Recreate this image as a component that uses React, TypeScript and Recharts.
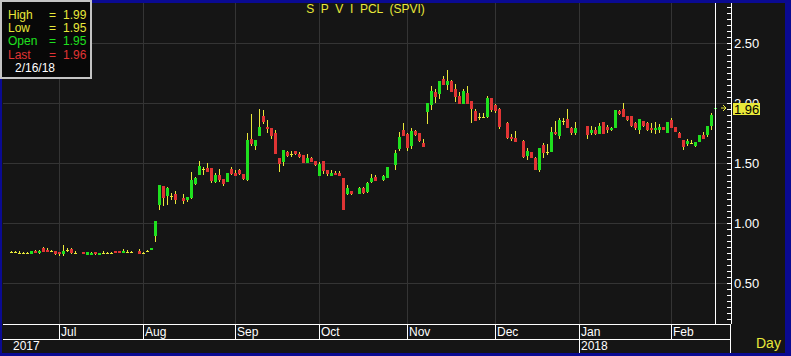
import React from "react"
import { Bar, ComposedChart, ReferenceLine, XAxis, YAxis } from "recharts"

// [day, open, high, low, close]; a lone [day] is a weekday with no trading
type Row = [number, number, number, number, number] | [number]

const jun2017: Row[] = [
  [15, 0.76, 0.77, 0.75, 0.76],
  [16, 0.76, 0.77, 0.75, 0.76],
  [19, 0.75, 0.765, 0.74, 0.75],
  [20, 0.75, 0.76, 0.745, 0.75],
  [21, 0.75, 0.76, 0.745, 0.75],
  [22, 0.745, 0.767, 0.744, 0.765],
  [23, 0.77, 0.78, 0.75, 0.75],
  [26, 0.75, 0.775, 0.745, 0.77],
  [27, 0.79, 0.8, 0.76, 0.76],
  [28, 0.78, 0.79, 0.76, 0.76],
  [29, 0.77, 0.78, 0.76, 0.77],
  [30, 0.77, 0.77, 0.735, 0.745],
]

const jul2017: Row[] = [
  [3, 0.76, 0.76, 0.73, 0.74],
  [4, 0.74, 0.82, 0.73, 0.77],
  [5, 0.78, 0.79, 0.76, 0.78],
  [6, 0.785, 0.79, 0.74, 0.755],
  [7, 0.755, 0.77, 0.75, 0.755],
  [10],
  [11, 0.758, 0.76, 0.74, 0.742],
  [12, 0.737, 0.76, 0.735, 0.758],
  [13, 0.737, 0.757, 0.735, 0.755],
  [14, 0.758, 0.76, 0.733, 0.742],
  [17, 0.737, 0.755, 0.735, 0.753],
  [18, 0.755, 0.765, 0.75, 0.755],
  [19, 0.755, 0.758, 0.752, 0.755],
  [20, 0.755, 0.758, 0.752, 0.755],
  [21, 0.767, 0.77, 0.75, 0.75],
  [24, 0.767, 0.77, 0.75, 0.75],
  [25, 0.75, 0.783, 0.75, 0.77],
  [26, 0.764, 0.775, 0.753, 0.764],
  [27, 0.76, 0.765, 0.755, 0.76],
  [28],
  [31, 0.767, 0.783, 0.745, 0.745],
]

const aug2017: Row[] = [
  [1, 0.753, 0.76, 0.745, 0.753],
  [2, 0.77, 0.775, 0.76, 0.77],
  [3, 0.775, 0.795, 0.775, 0.79],
  [4, 0.89, 1.02, 0.845, 1.02],
  [7, 1.15, 1.32, 1.11, 1.32],
  [8, 1.31, 1.31, 1.14, 1.21],
  [9, 1.225, 1.3, 1.15, 1.29],
  [10, 1.225, 1.25, 1.19, 1.225],
  [11, 1.24, 1.27, 1.16, 1.19],
  [14],
  [15, 1.21, 1.24, 1.16, 1.185],
  [16, 1.19, 1.22, 1.18, 1.22],
  [17, 1.21, 1.43, 1.2, 1.36],
  [18, 1.325, 1.385, 1.32, 1.38],
  [21, 1.4, 1.52, 1.4, 1.48],
  [22, 1.45, 1.47, 1.4, 1.45],
  [23, 1.46, 1.5, 1.425, 1.43],
  [24, 1.46, 1.46, 1.335, 1.35],
  [25, 1.34, 1.42, 1.335, 1.4],
  [28, 1.4, 1.45, 1.34, 1.36],
  [29, 1.37, 1.37, 1.31, 1.33],
  [30, 1.345, 1.42, 1.345, 1.42],
  [31, 1.45, 1.47, 1.405, 1.41],
]

const sep2017: Row[] = [
  [1, 1.42, 1.44, 1.39, 1.395],
  [4, 1.445, 1.455, 1.405, 1.41],
  [5, 1.41, 1.41, 1.36, 1.37],
  [6, 1.36, 1.75, 1.355, 1.69],
  [7, 1.7, 1.91, 1.64, 1.66],
  [8, 1.64, 1.69, 1.61, 1.69],
  [11, 1.73, 1.95, 1.73, 1.8],
  [12, 1.89, 1.94, 1.825, 1.84],
  [13, 1.8, 1.86, 1.75, 1.785],
  [14, 1.79, 1.79, 1.705, 1.73],
  [15, 1.75, 1.78, 1.575, 1.575],
  [18, 1.54, 1.54, 1.43, 1.49],
  [19, 1.51, 1.61, 1.48, 1.61],
  [20, 1.59, 1.6, 1.555, 1.56],
  [21, 1.58, 1.6, 1.555, 1.58],
  [22, 1.6, 1.6, 1.57, 1.575],
  [25, 1.58, 1.59, 1.545, 1.55],
  [26, 1.565, 1.57, 1.5, 1.505],
  [27, 1.505, 1.58, 1.505, 1.54],
  [28, 1.545, 1.55, 1.51, 1.51],
  [29, 1.515, 1.515, 1.48, 1.485],
]

const oct2017: Row[] = [
  [2, 1.39, 1.51, 1.39, 1.49],
  [3, 1.515, 1.515, 1.41, 1.435],
  [4, 1.44, 1.44, 1.39, 1.41],
  [5, 1.39, 1.44, 1.39, 1.415],
  [6, 1.42, 1.435, 1.4, 1.4],
  [9, 1.415, 1.435, 1.39, 1.39],
  [10, 1.38, 1.38, 1.11, 1.11],
  [11, 1.24, 1.315, 1.235, 1.295],
  [12, 1.27, 1.27, 1.235, 1.24],
  [13],
  [16, 1.24, 1.3, 1.24, 1.29],
  [17, 1.295, 1.3, 1.24, 1.255],
  [18, 1.26, 1.345, 1.255, 1.335],
  [19, 1.345, 1.41, 1.335, 1.38],
  [20, 1.385, 1.4, 1.35, 1.355],
  [23],
  [24, 1.36, 1.4, 1.355, 1.39],
  [25, 1.38, 1.465, 1.38, 1.465],
  [26],
  [27, 1.485, 1.61, 1.44, 1.585],
  [30, 1.62, 1.76, 1.6, 1.72],
  [31, 1.78, 1.835, 1.725, 1.73],
]

const nov2017: Row[] = [
  [1, 1.745, 1.75, 1.6, 1.63],
  [2, 1.64, 1.79, 1.62, 1.77],
  [3, 1.77, 1.78, 1.73, 1.735],
  [6, 1.75, 1.755, 1.68, 1.685],
  [7, 1.67, 1.705, 1.635, 1.635],
  [8, 1.93, 2.0, 1.83, 2.0],
  [9, 1.985, 2.14, 1.94, 2.1],
  [10, 2.095, 2.12, 2.0, 2.055],
  [13, 2.075, 2.185, 2.035, 2.185],
  [14, 2.205, 2.225, 2.15, 2.15],
  [15, 2.15, 2.28, 2.11, 2.185],
  [16, 2.185, 2.19, 2.09, 2.095],
  [17, 2.12, 2.16, 2.01, 2.055],
  [20, 2.06, 2.095, 1.99, 1.99],
  [21, 1.99, 2.115, 1.99, 2.1],
  [22, 2.085, 2.14, 1.99, 1.99],
  [23, 2.02, 2.02, 1.835, 1.95],
  [24, 1.935, 1.955, 1.85, 1.85],
  [27, 1.886, 1.92, 1.864, 1.886],
  [28, 1.886, 1.92, 1.88, 1.886],
  [29, 1.885, 2.06, 1.88, 2.04],
  [30, 2.04, 2.04, 1.93, 1.94],
]

const dec2017: Row[] = [
  [1, 1.985, 1.99, 1.915, 1.935],
  [4, 1.955, 1.96, 1.785, 1.8],
  [5],
  [6, 1.835, 1.84, 1.7, 1.71],
  [7, 1.72, 1.74, 1.685, 1.7],
  [8, 1.71, 1.77, 1.675, 1.68],
  [11],
  [12, 1.685, 1.69, 1.545, 1.555],
  [13, 1.56, 1.63, 1.53, 1.6],
  [14, 1.59, 1.59, 1.54, 1.545],
  [15, 1.545, 1.55, 1.44, 1.44],
  [18, 1.44, 1.63, 1.425, 1.63],
  [19, 1.65, 1.665, 1.54, 1.585],
  [20, 1.594, 1.658, 1.567, 1.594],
  [21, 1.595, 1.8, 1.59, 1.76],
  [22, 1.76, 1.85, 1.735, 1.74],
  [25, 1.725, 1.88, 1.705, 1.86],
  [26, 1.855, 1.88, 1.817, 1.855],
  [27, 1.865, 1.95, 1.79, 1.79],
  [28, 1.795, 1.8, 1.735, 1.75],
  [29, 1.755, 1.845, 1.735, 1.795],
]

const jan2018: Row[] = [
  [1],
  [2],
  [3, 1.81, 1.81, 1.705, 1.735],
  [4, 1.755, 1.81, 1.735, 1.775],
  [5, 1.78, 1.8, 1.735, 1.745],
  [8, 1.745, 1.835, 1.74, 1.81],
  [9, 1.845, 1.845, 1.74, 1.745],
  [10, 1.8, 1.82, 1.755, 1.775],
  [11, 1.775, 1.8, 1.77, 1.795],
  [12, 1.795, 1.94, 1.79, 1.94],
  [15, 1.935, 1.945, 1.905, 1.91],
  [16, 1.95, 2.0, 1.885, 1.885],
  [17, 1.895, 1.895, 1.855, 1.86],
  [18, 1.89, 1.89, 1.805, 1.81],
  [19, 1.835, 1.84, 1.78, 1.795],
  [22, 1.78, 1.865, 1.74, 1.865],
  [23, 1.85, 1.855, 1.805, 1.81],
  [24, 1.835, 1.84, 1.77, 1.775],
  [25, 1.795, 1.835, 1.755, 1.775],
  [26, 1.775, 1.84, 1.74, 1.795],
  [29, 1.78, 1.83, 1.755, 1.8],
  [30, 1.8, 1.8, 1.775, 1.775],
  [31, 1.755, 1.845, 1.755, 1.845],
]

const feb2018: Row[] = [
  [1, 1.86, 1.88, 1.795, 1.795],
  [2, 1.8, 1.805, 1.76, 1.76],
  [5, 1.755, 1.76, 1.71, 1.71],
  [6, 1.69, 1.695, 1.61, 1.635],
  [7, 1.66, 1.7, 1.645, 1.685],
  [8, 1.665, 1.697, 1.658, 1.665],
  [9, 1.645, 1.68, 1.635, 1.68],
  [12, 1.68, 1.735, 1.675, 1.735],
  [13, 1.735, 1.76, 1.705, 1.705],
  [14, 1.735, 1.81, 1.715, 1.81],
  [15, 1.81, 1.92, 1.78, 1.905],
  [16, 1.95, 1.99, 1.95, 1.96],
]

const periods = [
  { year: 2017, month: 6, rows: jun2017 },
  { year: 2017, month: 7, rows: jul2017 },
  { year: 2017, month: 8, rows: aug2017 },
  { year: 2017, month: 9, rows: sep2017 },
  { year: 2017, month: 10, rows: oct2017 },
  { year: 2017, month: 11, rows: nov2017 },
  { year: 2017, month: 12, rows: dec2017 },
  { year: 2018, month: 1, rows: jan2018 },
  { year: 2018, month: 2, rows: feb2018 },
]

const monthNames = ["Jan", "Feb", "Mar", "Apr", "May", "Jun", "Jul", "Aug", "Sep", "Oct", "Nov", "Dec"]
const priceLabels = [0.5, 1.0, 1.5, 2.0, 2.5]
const title = "S  P  V  I  PCL  (SPVI)"

const YELLOW = "#e8e83a"
const GREEN = "#1fe01f"
const RED = "#e03434"
const NAVY = "#0a0a92"
const PANEL = "#151515"
const GRID = "#343434"
const SANS = '"Liberation Sans", Arial, sans-serif'
const NARROW = '"Liberation Sans Narrow", "Arial Narrow", "Liberation Sans", sans-serif'

const pad = (n: number) => String(n).padStart(2, "0")
const keyOf = (y: number, m: number, d: number) => `${y}-${pad(m)}-${pad(d)}`

interface Point {
  key: string
  o: number | null
  h: number | null
  l: number | null
  c: number | null
  range: [number, number] | null
}

const data: Point[] = periods.flatMap((p) =>
  p.rows.map((r) => {
    const key = keyOf(p.year, p.month, r[0])
    if (r.length === 1) return { key, o: null, h: null, l: null, c: null, range: null }
    const [, o, h, l, c] = r
    return { key, o, h, l, c, range: [l, h] as [number, number] }
  })
)

const monthStarts = periods.slice(1).map((p) => ({
  key: keyOf(p.year, p.month, p.rows[0][0]),
  label: monthNames[p.month - 1],
}))
const yearStarts = periods
  .filter((p, i) => i === 0 || p.month === 1)
  .map((p, i) => ({ key: keyOf(p.year, p.month, p.rows[0][0]), label: String(p.year), first: i === 0 }))

// minor ticks every 0.05 along the price axis
const yTicks = Array.from({ length: 53 }, (_, i) => Math.round((0.2 + i * 0.05) * 100) / 100)

const last = data[data.length - 1]
const lastKey = last.key

const CandleShape = (props: any) => {
  const { x, y, width, height, payload, index } = props
  if (!payload || payload.o == null) return null
  const { o, h, l, c } = payload as { o: number; h: number; l: number; c: number }
  const top = Math.min(y, y + height)
  const span = Math.abs(height)
  const py = (v: number) => (h === l ? top : top + ((h - v) / (h - l)) * span)
  const bx = Math.floor(x + width / 2 - 1)
  const wx = bx + 1.5
  const bodyTop = Math.round(py(Math.max(o, c)))
  const bodyBot = Math.round(py(Math.min(o, c)))
  const isLast = index === data.length - 1
  return (
    <g>
      <line x1={wx} x2={wx} y1={py(h)} y2={py(l)} stroke={YELLOW} strokeWidth={1} />
      {o === c ? (
        <rect x={bx} y={bodyTop} width={3} height={1} fill={YELLOW} />
      ) : (
        <rect x={bx} y={bodyTop} width={3} height={Math.max(1, bodyBot - bodyTop)} fill={c > o ? GREEN : RED} />
      )}
      {isLast && <rect x={bx} y={Math.round(py(h))} width={3} height={Math.max(4, Math.round(span))} fill="#1c2a86" />}
    </g>
  )
}

const RightTick = (props: any) => {
  const { x, y, payload } = props
  const v = payload.value as number
  const major = priceLabels.some((t) => Math.abs(t - v) < 1e-6)
  return (
    <g>
      <line x1={x - 4} x2={x} y1={y} y2={y} stroke="#fff" />
      {major && (
        <text x={x + 3} y={y} dominantBaseline="central" fill="#fff" fontSize={13} fontFamily={SANS}>
          {v.toFixed(2)}
        </text>
      )}
    </g>
  )
}

const LeftTick = (props: any) => {
  const { x, y } = props
  return <line x1={x} x2={x + 4} y1={y} y2={y} stroke="#fff" />
}

const MonthTick = (props: any) => {
  const { x, y, payload } = props
  const m = monthStarts.find((s) => s.key === payload.value)
  return (
    <g>
      <line x1={x} x2={x} y1={y} y2={y + 15} stroke="#fff" />
      <text x={x + 2} y={y + 8} dominantBaseline="central" fill="#fff" fontSize={12} fontFamily={NARROW}>
        {m ? m.label : ""}
      </text>
    </g>
  )
}

const YearTick = (props: any) => {
  const { x, y, payload } = props
  const yr = yearStarts.find((s) => s.key === payload.value)
  return (
    <g>
      {yr && !yr.first && <line x1={x} x2={x} y1={y} y2={y + 14} stroke="#fff" />}
      <text x={x + 2} y={y + 7} dominantBaseline="central" fill="#fff" fontSize={12} fontFamily={NARROW}>
        {yr ? yr.label : ""}
      </text>
    </g>
  )
}

const PriceTag = (props: any) => {
  const { viewBox, text } = props
  if (!viewBox) return null
  const right = viewBox.x + viewBox.width
  const y = viewBox.y
  return (
    <g>
      <path
        d={`M${right - 10},${y} H${right - 5} M${right - 8},${y - 3} L${right - 5},${y} L${right - 8},${y + 3}`}
        stroke={YELLOW}
        fill="none"
      />
      <rect x={right + 2} y={y - 5} width={27} height={12} fill={YELLOW} />
      <text x={right + 3} y={y + 1} dominantBaseline="central" fill="#000" fontSize={13} fontFamily={SANS}>
        {text}
      </text>
    </g>
  )
}

export default function App() {
  const [yy, mm, dd] = lastKey.split("-").map(Number)
  const legendRows = [
    { name: "High", value: last.h as number, color: YELLOW },
    { name: "Low", value: last.l as number, color: YELLOW },
    { name: "Open", value: last.o as number, color: GREEN },
    { name: "Last", value: last.c as number, color: RED },
  ]

  return (
    <div style={{ position: "absolute", left: 0, top: 0, width: 791, height: 356, background: NAVY, overflow: "hidden" }}>
      <style>{"svg line, svg rect { shape-rendering: crispEdges; }"}</style>
      <div style={{ position: "absolute", left: 2, top: 3, width: 783, height: 350, background: PANEL }} />
      <div style={{ position: "absolute", left: 0, top: 0 }}>
        <ComposedChart width={791} height={356} data={data} margin={{ top: 3, right: 6, bottom: 3, left: 3 }} barCategoryGap={0}>
          <XAxis
            dataKey="key"
            type="category"
            height={15}
            padding={{ left: 6, right: 14 }}
            ticks={monthStarts.map((s) => s.key)}
            interval={0}
            tickSize={0}
            tickMargin={0}
            tickLine={false}
            axisLine={{ stroke: "#fff" }}
            tick={<MonthTick />}
          />
          <XAxis
            xAxisId="year"
            dataKey="key"
            type="category"
            height={14}
            padding={{ left: 6, right: 14 }}
            ticks={yearStarts.map((s) => s.key)}
            interval={0}
            tickSize={0}
            tickMargin={0}
            tickLine={false}
            axisLine={{ stroke: "#fff" }}
            tick={<YearTick />}
          />
          <YAxis
            yAxisId="r"
            orientation="right"
            width={54}
            domain={[0.16, 2.835]}
            allowDataOverflow
            ticks={yTicks}
            interval={0}
            tickSize={0}
            tickMargin={0}
            tickLine={false}
            axisLine={{ stroke: "#fff" }}
            tick={<RightTick />}
          />
          <YAxis
            yAxisId="l"
            orientation="left"
            width={0}
            domain={[0.16, 2.835]}
            allowDataOverflow
            ticks={yTicks}
            interval={0}
            tickSize={0}
            tickMargin={0}
            tickLine={false}
            axisLine={{ stroke: "#fff" }}
            tick={<LeftTick />}
          />
          {priceLabels.map((v) => (
            <ReferenceLine key={`h${v}`} yAxisId="r" y={v} stroke={GRID} zIndex={-100} />
          ))}
          {monthStarts.map((s) => (
            <ReferenceLine key={`v${s.key}`} yAxisId="r" x={s.key} stroke={GRID} zIndex={-100} />
          ))}
          <ReferenceLine yAxisId="r" x={lastKey} stroke="#fff" />
          <Bar yAxisId="r" dataKey="range" shape={<CandleShape />} isAnimationActive={false} />
          <ReferenceLine
            yAxisId="r"
            y={last.c as number}
            stroke="none"
            zIndex={2000}
            label={<PriceTag text={(last.c as number).toFixed(2)} />}
          />
        </ComposedChart>
      </div>
      <div
        style={{ position: "absolute", left: 730, top: 324, width: 1, height: 29, background: "#fff" }}
      />
      <div
        style={{
          position: "absolute",
          left: 0,
          top: 1,
          width: 731,
          textAlign: "center",
          whiteSpace: "pre",
          color: YELLOW,
          fontFamily: SANS,
          fontSize: 12,
          lineHeight: "16px",
        }}
      >
        {title}
      </div>
      <div
        style={{
          position: "absolute",
          left: 0,
          top: 0,
          width: 88,
          height: 75,
          background: "#080808",
          border: "2px solid #c4c4c4",
          fontFamily: SANS,
          fontSize: 12,
        }}
      >
        {legendRows.map((r, i) => (
          <div key={r.name} style={{ position: "absolute", top: 6 + i * 13.2, left: 6, width: 80, height: 14, lineHeight: "14px", color: r.color }}>
            <span style={{ position: "absolute", left: 0 }}>{r.name}</span>
            <span style={{ position: "absolute", left: 41 }}>=</span>
            <span style={{ position: "absolute", left: 55 }}>{r.value.toFixed(2)}</span>
          </div>
        ))}
        <div style={{ position: "absolute", top: 59, left: 13, lineHeight: "14px", color: "#fff" }}>
          {`${mm}/${dd}/${String(yy).slice(2)}`}
        </div>
      </div>
      <div
        style={{
          position: "absolute",
          left: 756,
          top: 335,
          color: YELLOW,
          fontFamily: NARROW,
          fontSize: 14,
          lineHeight: "16px",
        }}
      >
        Day
      </div>
    </div>
  )
}
